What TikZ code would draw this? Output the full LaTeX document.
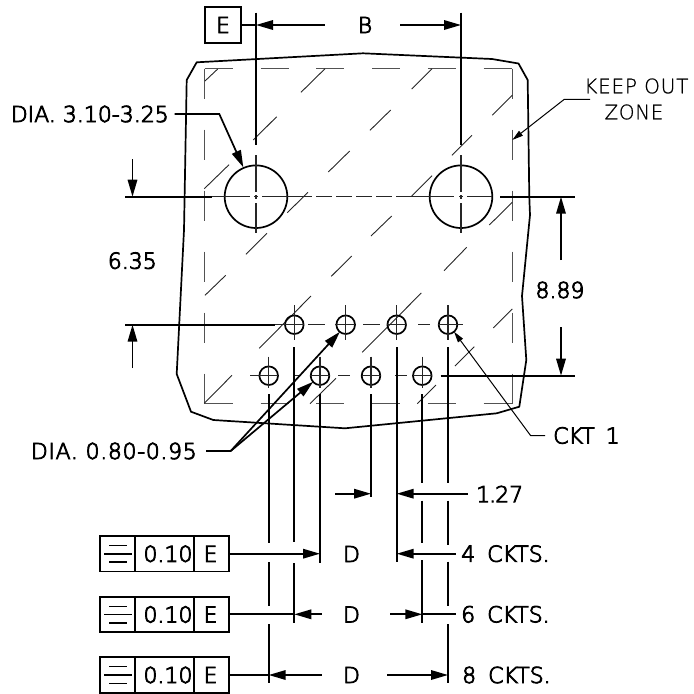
\documentclass[tikz,border=0pt]{standalone}
\usepackage{fontspec}
\usetikzlibrary{arrows.meta}
\setmainfont[FakeBold=4]{DejaVu Sans ExtraLight}
\newfontfamily\thinface[FakeBold=0.8]{DejaVu Sans ExtraLight}
\tikzset{
  heavy/.style={line width=1.7pt,black},
  hatchline/.style={line width=0.9pt,black!85},
  centreline/.style={line width=1.1pt,black!85},
  keepout/.style={line width=1.3pt,black!68},
  tipped/.style={heavy,-{Triangle[length=17pt,width=9.5pt]}},
  tippedthin/.style={line width=1pt,-{Triangle[length=11pt,width=6pt]}},
  lbl/.style={inner sep=0pt,font=\fontsize{22}{24}\selectfont},
  lblthin/.style={inner sep=0pt,font=\thinface\fontsize{20}{22}\selectfont},
}
\begin{document}
\begin{tikzpicture}[x=1pt,y=-1pt]
\useasboundingbox (0,0) rectangle (694,694);
% package outline
\draw[heavy,line join=round] (196.7,62.3) -- (363,53.3) -- (492,59) -- (518.5,63.5) -- (527.7,80) -- (529.3,197) -- (530,215) -- (522,296) -- (526.3,360) -- (519.3,406.7) -- (496.7,413.3) -- (345,428.3) -- (213.3,420) -- (191,411.7) -- (176.7,374) -- (184,230) -- (186.7,80) -- cycle;
% keep out zone
\draw[keepout,dash pattern=on 28pt off 27.8pt] (204.7,68.7) -- (512.3,68.7);
\draw[keepout,dash pattern=on 28pt off 27.8pt] (204.7,403.7) -- (512.3,403.7);
\draw[keepout,dash pattern=on 30pt off 31pt] (204.7,68.7) -- (204.7,403.7);
\draw[keepout,dash pattern=on 30pt off 31pt] (512.3,68.7) -- (512.3,403.7);
% hatching
\foreach \a/\b/\c/\d in {205/81/217.7/69,301/92.3/325/68.7,411.7/89/432/68.7,492.3/115.3/512.3/95.3,253.3/140/276.7/116.7,370/130.3/390.7/110,452/155.3/472/135.3,328.3/172/349.7/151,204.3/188.7/229/164.7,411.7/196/432/175.7,287.3/212.7/308/192.3,489.3/225/512.3/202.3,371/236/391.7/216,246/254.3/267/233.3,331.3/276.3/351.7/256,444/270.7/466.7/247.3,205/295.3/225.7/275.3,259.3/348.3/311/296,362.3/352.3/421.3/293,493.3/328/512.3/309,455/366/474.3/346.7,204.3/403.3/232/375.3,310/403.7/336/378.3,417.3/403.7/436/385}
  \draw[hatchline] (\a,\b) -- (\c,\d);
% large holes
\coordinate (h1) at (256,196.7);
\coordinate (h2) at (461,196.7);
\draw[heavy] (h1) circle[radius=31.3pt];
\draw[heavy] (h2) circle[radius=31.3pt];
\foreach \x in {256,461}
  \foreach \a/\b in {155/192,195/199,203/233}
    \draw[centreline] (\x,\a) -- (\x,\b);
\foreach \a/\b in {212/250,254/258,262/312,316/332,336/352,356/372,376/392,396/412,412/454,459/463,467/492}
  \draw[centreline] (\a,196.7) -- (\b,196.7);
% small holes
\foreach \x in {294.3,345.7,396.7,448}{
  \draw[heavy] (\x,324.7) circle[radius=9.3pt];
  \draw[centreline] (\x,305.3) -- (\x,340);
}
\foreach \x in {268.7,320,371,422.3}{
  \draw[heavy] (\x,375.7) circle[radius=9.3pt];
  \draw[centreline] (\x,356.7) -- (\x,388);
}
\foreach \a/\b in {275/304,308/325,335/355,363/380,387/407,418/430,438/463}
  \draw[centreline] (\a,324.7) -- (\b,324.7);
\foreach \a/\b in {250/278,293/300,310/330,338/350,362/381,395/407,413/432}
  \draw[centreline] (\a,375.7) -- (\b,375.7);
% extension lines
\draw[heavy] (256,12.6) -- (256,145);
\draw[heavy] (461,12.6) -- (461,145);
\draw[heavy] (125,196.7) -- (212,196.7);
\draw[heavy] (500,196.7) -- (575,196.7);
\draw[heavy] (125,324.7) -- (275,324.7);
\draw[heavy] (440.7,375.7) -- (575,375.7);
\foreach \x/\a/\b in {268.7/394/542.7,268.7/562.3/606,268.7/624/682.7,294.3/347.3/541.7,294.3/563.3/622.7,320/394/563.3,371/394/496.7,396.7/347.3/561.7,422.3/394/483.3,422.3/500.7/543.3,422.3/560/622.7,448/347.3/483.3,448/500.7/545,448/561.7/606,448/624/683.3}
  \draw[heavy] (\x,\a) -- (\x,\b);
% datum E
\node[draw,heavy,minimum size=36pt,inner sep=0pt,lbl] (datum) at (223,25) {E};
\node[lbl] (dimB) at (365,25) {B};
\draw[heavy] (datum.east) -- (256,25);
\coordinate (bL) at (256,25); \coordinate (bR) at (461,25);
\draw[tipped] (324.7,25) -- (bL);
\draw[tipped] (400,25) -- (bR);
% vertical dims
\draw[tipped] (132.5,159.3) -- (132.5,196.7);
\draw[tipped] (132.5,368) -- (132.5,324.7);
\node[lbl] (d635) at (132.3,260.7) {6.35};
\draw[tipped] (561,260) -- (561,196.7);
\draw[tipped] (561,327.3) -- (561,375.7);
\node[lbl] (d889) at (560,290) {8.89};
% 1.27
\draw[tipped] (335.3,493.7) -- (371,493.7);
\draw[tipped] (467.7,493.7) -- (396.7,493.7);
\node[lbl,anchor=west] (d127) at (476,494) {1\kern-1pt.\kern-1pt 27};
% leaders
\node[lbl,anchor=east] (dia1) at (169,114) {DIA. 3.10-3.25};
\draw[tipped] (174.7,114) -- (219.3,114) -- (243.3,167.3);
\node[lbl,anchor=east] (dia2) at (197,451) {\addfontfeature{LetterSpace=3}DIA. 0.80-0.95};
\draw[heavy] (206,451) -- (230.7,451);
\draw[tipped] (230.7,451) -- (340,331.7);
\draw[tipped] (230.7,451) -- (313.3,381.7);
\node[lblthin,anchor=west] (koa) at (584,86) {\addfontfeature{LetterSpace=4}KEEP OUT};
\node[lblthin] (kob) at (634,112) {\addfontfeature{LetterSpace=3}ZONE};
\draw[tippedthin] (590,99.3) -- (564.3,99.3) -- (512.3,140);
\node[lbl,anchor=west] (ckt) at (553,435.5) {CKT\hspace{4pt} 1};
\draw[tippedthin] (545,435.7) -- (530.7,435.7) -- (454,331.7);
% feature control frames
\foreach \n/\y in {a/553.8,b/614.5,c/675}{
  \draw[heavy] (100,\y-17.8) rectangle (228.7,\y+17.8);
  \draw[heavy] (135.3,\y-17.8) -- (135.3,\y+17.8);
  \draw[heavy] (193.7,\y-17.8) -- (193.7,\y+17.8);
  \draw[line width=1.4pt] (109.3,\y-8.3) -- (126.7,\y-8.3);
  \draw[line width=1.4pt] (104,\y) -- (132,\y);
  \draw[line width=1.4pt] (109.3,\y+8.3) -- (126.7,\y+8.3);
  \node[lbl] (v\n) at (168,\y) {0.10};
  \node[lbl] (e\n) at (210.5,\y) {E};
}
% D dims
\draw[tipped] (228.7,553.7) -- (320,553.7);
\draw[tipped] (455.7,553.7) -- (396.7,553.7);
\node[lbl] (d4) at (351.5,554) {D};
\node[lbl,anchor=west] (c4) at (461,553.7) {4\hspace{5pt} CKTS.};
\draw[heavy] (228.7,614.3) -- (294.3,614.3);
\draw[tipped] (321.7,614.3) -- (294.3,614.3);
\draw[tipped] (390.3,614.3) -- (422.3,614.3);
\draw[heavy] (422.3,614.3) -- (455.7,614.3);
\node[lbl] (d6) at (351.5,614.5) {D};
\node[lbl,anchor=west] (c6) at (461,614.3) {6\hspace{5pt} CKTS.};
\draw[heavy] (228.7,675) -- (268.7,675);
\draw[tipped] (321.7,675) -- (268.7,675);
\draw[tipped] (387.3,675) -- (448,675);
\node[lbl] (d8) at (351.5,675) {D};
\node[lbl,anchor=west] (c8) at (462,675) {8\hspace{5pt} CKTS.};
\end{tikzpicture}
\end{document}
